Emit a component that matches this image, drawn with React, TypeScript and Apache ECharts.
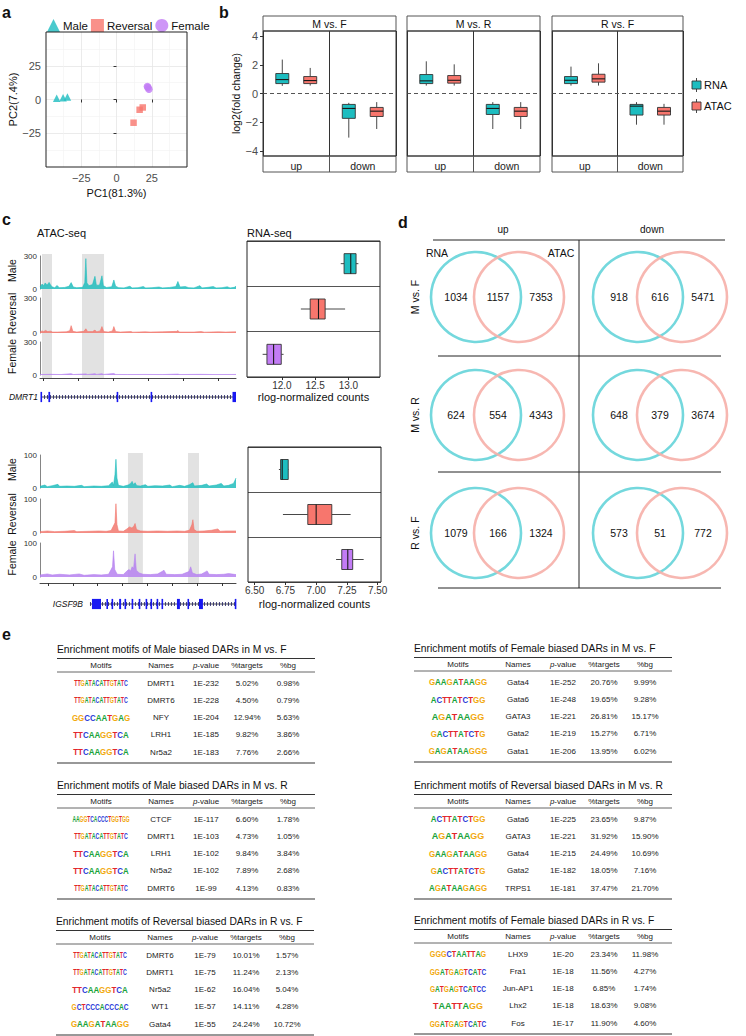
import React, { useEffect, useRef } from "react";
import * as echarts from "echarts";

const FONT = "'Liberation Sans', Arial, Helvetica, sans-serif";
const TEAL = "#1DBDC0";
const RED = "#F7766D";
const PURPLE = "#C27CF5";
const TR_TEAL = "#22BDBD";
const TR_RED = "#F2786F";
const TR_PURPLE = "#B681F0";
const VENN_TEAL = "#74D8DD";
const VENN_RED = "#F6AFA9";

// ===== a: PCA =====
const pcaGroups = ["Male", "Reversal", "Female"];
const pcaMale = [[-42.4, 1.0], [-37.9, 1.3], [-34.8, 1.8]];
const pcaReversal = [[12.1, -17.2], [16.4, -7.6], [18.6, -5.9]];
const pcaFemale = [[21.9, 9.6], [23.0, 7.6], [22.3, 8.8]];
const pcaTicks = [-25, 0, 25];

// ===== b: log2 fold change boxes [min, Q1, median, Q3, max] (up, down) =====
const facetNames = ["M vs. F", "M vs. R", "R vs. F"];
const directions = ["up", "down"];
const assays = ["RNA", "ATAC"];
const rnaMF = [[0.53, 0.69, 0.97, 1.39, 2.36], [-3.07, -1.73, -1.04, -0.76, -0.65]];
const atacMF = [[0.55, 0.69, 0.9, 1.18, 1.78], [-2.47, -1.6, -1.23, -0.97, -0.6]];
const rnaMR = [[0.55, 0.69, 0.88, 1.32, 2.24], [-2.47, -1.46, -1.04, -0.76, -0.6]];
const atacMR = [[0.55, 0.72, 0.92, 1.25, 2.03], [-2.47, -1.6, -1.23, -0.97, -0.6]];
const rnaRF = [[0.55, 0.69, 0.92, 1.18, 1.87], [-2.17, -1.5, -0.88, -0.76, -0.6]];
const atacRF = [[0.55, 0.79, 1.02, 1.34, 2.1], [-2.17, -1.5, -1.23, -0.97, -0.72]];
const log2Ticks = [-4, -2, 0, 2, 4];

// ===== c: ATAC tracks [position kb, signal] =====
const trackGroups = ["Male", "Reversal", "Female"];
const dmrt1Male = [[0, 18], [0.6, 45], [1.0, 30], [1.5, 55], [2.0, 35], [2.6, 60], [3.0, 38], [3.4, 20], [4.2, 12], [4.9, 32], [5.5, 12], [7.0, 14], [8.3, 25], [8.9, 58], [9.5, 18], [10.5, 12], [12.2, 15], [12.8, 60], [13.1, 276], [13.4, 55], [14.0, 30], [15.0, 40], [15.7, 115], [16.1, 35], [17.0, 35], [17.7, 120], [18.1, 30], [19.0, 14], [20.5, 20], [21.1, 82], [21.6, 25], [22.5, 12], [24.0, 10], [25.7, 25], [26.3, 10], [28.0, 12], [29.5, 22], [30.2, 10], [32.0, 12], [34.0, 18], [35.0, 10], [37.0, 14], [38.8, 22], [39.4, 68], [40.0, 18], [41.5, 22], [42.5, 12], [44.0, 10], [45.7, 30], [46.3, 10], [48.0, 15], [49.5, 22], [50.3, 10], [52.0, 12], [53.5, 20], [54.3, 10], [55.5, 15], [56, 25]];
const dmrt1Reversal = [[0, 8], [0.6, 18], [1.0, 12], [1.6, 22], [2.2, 12], [3.0, 16], [3.6, 8], [5, 8], [7.5, 10], [8.5, 20], [8.9, 63], [9.4, 14], [10.5, 8], [12.5, 14], [13.1, 36], [13.6, 12], [15, 12], [15.7, 25], [16.2, 10], [17.2, 18], [17.7, 55], [18.2, 12], [19.5, 8], [20.7, 18], [21.1, 55], [21.6, 12], [23, 8], [26, 12], [26.5, 7], [30, 10], [31.5, 8], [35, 10], [39.1, 14], [39.4, 22], [39.8, 8], [44, 8], [46, 12], [47, 7], [51, 10], [53, 8], [56, 10]];
const dmrt1Female = [[0, 4], [3, 6], [6, 4], [8.9, 12], [9.5, 4], [13.1, 10], [13.6, 4], [15.7, 12], [16.2, 5], [17.7, 12], [18.2, 5], [21.1, 14], [21.6, 5], [25, 4], [30, 5], [35, 4], [39.4, 8], [40, 4], [46, 6], [50, 4], [56, 5]];
const dmrt1Highlights = [[0.57, 3.43], [12.0, 18.3]];
const dmrt1AxisTicks = [0.9, 10.9, 20.9, 30.9, 40.9, 50.9];
const dmrt1Span = [0.3, 55.6];
const dmrt1Exons = [[0.14, 0.57], [2.4, 2.9], [21.9, 22.3], [31.6, 32.0], [55.0, 56.0]];

const igsf9bMale = [[0, 5], [2, 9], [3, 4], [5, 7], [7.3, 11], [8, 5], [11, 6], [14, 5], [17, 8], [18, 4], [22, 6], [25, 5], [28, 7], [29.5, 18], [30, 8], [30.6, 40], [31, 87], [31.4, 30], [32, 8], [34, 5], [36, 9], [37, 14], [37.6, 20], [38.2, 10], [38.8, 16], [39.5, 7], [41, 6], [43, 10], [44, 5], [47, 7], [50, 6], [53, 9], [54, 4], [57, 8], [59, 5], [61, 10], [62.4, 16], [63, 6], [66, 8], [68, 12], [69, 6], [72, 9], [74, 14], [75, 6], [77, 8], [79, 14], [80, 30]];
const igsf9bReversal = [[0, 4], [3, 6], [6, 4], [10, 5], [14, 7], [15, 4], [20, 5], [24, 6], [27, 5], [29, 7], [30.6, 30], [31, 86], [31.4, 25], [32, 6], [34, 5], [35.5, 12], [36.5, 18], [37.5, 15], [38.3, 20], [38.8, 28], [39.4, 10], [41, 6], [44, 5], [48, 6], [52, 5], [56, 6], [59, 5], [61, 8], [62, 25], [62.4, 39], [62.9, 10], [64, 5], [67, 6], [70, 8], [72.6, 12], [73.5, 5], [76, 6], [80, 6]];
const igsf9bFemale = [[0, 6], [3, 9], [5, 6], [8, 8], [12, 6], [16, 9], [18, 5], [22, 7], [25, 6], [28, 8], [29.6, 30], [30, 77], [30.5, 22], [31.5, 8], [34, 7], [35.5, 18], [36.3, 22], [37, 18], [37.6, 30], [38.2, 25], [38.8, 68], [39.3, 20], [40.5, 12], [42, 8], [45, 7], [48, 9], [49.8, 16], [50.6, 20], [51.5, 8], [55, 7], [58, 8], [60.8, 16], [61.5, 30], [62.2, 12], [64, 7], [66, 9], [67.5, 15], [68.2, 18], [69, 8], [72, 7], [75, 8], [77, 10], [80, 7]];
const igsf9bHighlights = [[35.9, 42.0], [60.4, 64.9]];
const igsf9bAxisTicks = [3.3, 13.5, 23.5, 33.7, 43.9, 54.1, 64.3, 74.5];
const igsf9bSpan = [20.4, 80];
const igsf9bExons = [[21.2, 24.9], [27.1, 27.6], [29.2, 29.7], [32.3, 33.1], [34.5, 35.0], [37.4, 37.9], [40.3, 40.9], [43.1, 43.6], [45.1, 45.6], [47.6, 48.1], [49.6, 50.1], [55.9, 57.1], [60.2, 60.7], [64.9, 66.5], [79.5, 80]];

// ===== c: RNA-seq rlog boxes [min, Q1, median, Q3, max] =====
const dmrt1Rlog = [[12.885, 12.935, 13.035, 13.115, 13.15], [12.285, 12.425, 12.55, 12.65, 12.95], [11.71, 11.775, 11.875, 11.99, 12.025]];
const dmrt1RlogTicks = [12, 12.5, 13];
const igsf9bRlog = [[6.697, 6.711, 6.724, 6.773, 6.776], [6.73, 6.932, 7.0, 7.127, 7.28], [7.162, 7.208, 7.257, 7.297, 7.386]];
const igsf9bRlogTicks = [6.5, 6.75, 7, 7.25, 7.5];

// ===== d: Venn counts [RNA only, shared, ATAC only] =====
const vennRows = ["M vs. F", "M vs. R", "R vs. F"];
const vennCols = ["up", "down"];
const vennUp = [[1034, 1157, 7353], [624, 554, 4343], [1079, 166, 1324]];
const vennDown = [[918, 616, 5471], [648, 379, 3674], [573, 51, 772]];

// ===== e: motif tables =====
const tableCols = ["Motifs", "Names", "p-value", "%targets", "%bg"];
const t1Title = "Enrichment motifs of Male biased DARs in M vs. F";
const t1Motifs = ["TTGATACATTGTATC", "TTGATACATTGTATC", "GGCCAATGAG", "TTCAAGGTCA", "TTCAAGGTCA"];
const t1Rows = [["DMRT1", "1E-232", "5.02%", "0.98%"], ["DMRT6", "1E-228", "4.50%", "0.79%"], ["NFY", "1E-204", "12.94%", "5.63%"], ["LRH1", "1E-185", "9.82%", "3.86%"], ["Nr5a2", "1E-183", "7.76%", "2.66%"]];
const t2Title = "Enrichment motifs of Female biased DARs in M vs. F";
const t2Motifs = ["GAAGATAAGG", "ACTTATCTGG", "AGATAAGG", "GACTTATCTG", "GAGATAAGGG"];
const t2Rows = [["Gata4", "1E-252", "20.76%", "9.99%"], ["Gata6", "1E-248", "19.65%", "9.28%"], ["GATA3", "1E-221", "26.81%", "15.17%"], ["Gata2", "1E-219", "15.27%", "6.71%"], ["Gata1", "1E-206", "13.95%", "6.02%"]];
const t3Title = "Enrichment motifs of Male biased DARs in M vs. R";
const t3Motifs = ["AAGGTCACCCTGGTGG", "TTGATACATTGTATC", "TTCAAGGTCA", "TTCAAGGTCA", "TTGATACATTGTATC"];
const t3Rows = [["CTCF", "1E-117", "6.60%", "1.78%"], ["DMRT1", "1E-103", "4.73%", "1.05%"], ["LRH1", "1E-102", "9.84%", "3.84%"], ["Nr5a2", "1E-102", "7.89%", "2.68%"], ["DMRT6", "1E-99", "4.13%", "0.83%"]];
const t4Title = "Enrichment motifs of Reversal biased DARs in M vs. R";
const t4Motifs = ["ACTTATCTGG", "AGATAAGG", "GAAGATAAGG", "GACTTATCTG", "AGATAAGAGG"];
const t4Rows = [["Gata6", "1E-225", "23.65%", "9.87%"], ["GATA3", "1E-221", "31.92%", "15.90%"], ["Gata4", "1E-215", "24.49%", "10.69%"], ["Gata2", "1E-182", "18.05%", "7.16%"], ["TRPS1", "1E-181", "37.47%", "21.70%"]];
const t5Title = "Enrichment motifs of Reversal biased DARs in R vs. F";
const t5Motifs = ["TTGATACATTGTATC", "TTGATACATTGTATC", "TTCAAGGTCA", "GCTCCCACCCAC", "GAAGATAAGG"];
const t5Rows = [["DMRT6", "1E-79", "10.01%", "1.57%"], ["DMRT1", "1E-75", "11.24%", "2.13%"], ["Nr5a2", "1E-62", "16.04%", "5.04%"], ["WT1", "1E-57", "14.11%", "4.28%"], ["Gata4", "1E-55", "24.24%", "10.72%"]];
const t6Title = "Enrichment motifs of Female biased DARs in R vs. F";
const t6Motifs = ["GGGCTAATTAG", "GGATGAGTCATC", "GATGAGTCATCC", "TAATTAGG", "GGATGAGTCATC"];
const t6Rows = [["LHX9", "1E-20", "23.34%", "11.98%"], ["Fra1", "1E-18", "11.56%", "4.27%"], ["Jun-AP1", "1E-18", "6.85%", "1.74%"], ["Lhx2", "1E-18", "18.63%", "9.08%"], ["Fos", "1E-17", "11.90%", "4.60%"]];

const LETTER_COLORS: any = { A: "#19A33A", C: "#2B3BD8", G: "#F2A90F", T: "#E2262B" };

const minusFmt = (v: number) => (v < 0 ? "\u2212" + Math.abs(v) : String(v));

function mkText(x: number, y: number, t: string, o: any = {}) {
  const align = o.align || "left";
  const style: any = {
    text: t,
    fill: o.color || "#111",
    fontSize: o.size || 10,
    fontFamily: FONT,
    fontWeight: o.weight || "normal",
    fontStyle: o.italic ? "italic" : "normal",
    align,
    textAlign: align,
    verticalAlign: "middle",
    textVerticalAlign: "middle",
  };
  if (o.rich) style.rich = o.rich;
  return { type: "text", x, y, z: 101, rotation: o.rotation || 0, scaleY: o.scaleY || 1, style };
}

function buildOption() {
  const grid: any[] = [];
  const xAxis: any[] = [];
  const yAxis: any[] = [];
  const series: any[] = [];
  const gfx: any[] = [];

  const addGrid = (r: any, xa: any, ya: any) => {
    const i = grid.length;
    grid.push({ left: r.l, top: r.t, width: r.w, height: r.h, containLabel: false, outerBoundsMode: "none" });
    xAxis.push(Object.assign({ gridIndex: i }, xa));
    yAxis.push(Object.assign({ gridIndex: i }, ya));
    return i;
  };
  const frame = (r: any, color = "#222", lw = 1) =>
    gfx.push({ type: "rect", z: 100, shape: { x: r.l, y: r.t, width: r.w, height: r.h }, style: { fill: "none", stroke: color, lineWidth: lw } });
  const line = (x1: number, y1: number, x2: number, y2: number, color = "#222", lw = 1) =>
    gfx.push({ type: "line", z: 100, shape: { x1, y1, x2, y2 }, style: { stroke: color, lineWidth: lw } });
  const text = (x: number, y: number, t: string, o: any = {}) => gfx.push(mkText(x, y, t, o));
  const axisFont = { fontFamily: FONT };

  // ---------------- panel labels ----------------
  text(2, 12, "a", { size: 16, weight: "bold" });
  text(219, 12, "b", { size: 16, weight: "bold" });
  text(2, 219, "c", { size: 16, weight: "bold" });
  text(398, 222, "d", { size: 16, weight: "bold" });
  text(2, 634, "e", { size: 16, weight: "bold" });

  // ---------------- a: PCA ----------------
  const rA = { l: 46, t: 32, w: 141, h: 135 };
  const gA = addGrid(
    rA,
    {
      type: "value", min: -50, max: 50, interval: 25,
      axisLine: { show: false },
      axisTick: { show: true, length: 3, customValues: pcaTicks, lineStyle: { color: "#333" } },
      axisLabel: { customValues: pcaTicks, formatter: minusFmt, fontSize: 11, color: "#4d4d4d", margin: 5, ...axisFont },
      splitLine: { show: true, lineStyle: { color: "#e6e6e6", width: 0.8 } },
      minorTick: { show: false, splitNumber: 2 },
      minorSplitLine: { show: true, lineStyle: { color: "#f2f2f2", width: 0.6 } },
      name: "PC1(81.3%)", nameLocation: "middle", nameGap: 20,
      nameTextStyle: { fontSize: 11, color: "#111", ...axisFont },
    },
    {
      type: "value", min: -50, max: 50, interval: 25,
      axisLine: { show: false },
      axisTick: { show: true, length: 3, customValues: pcaTicks, lineStyle: { color: "#333" } },
      axisLabel: { customValues: pcaTicks, formatter: minusFmt, fontSize: 11, color: "#4d4d4d", margin: 5, ...axisFont },
      splitLine: { show: true, lineStyle: { color: "#e6e6e6", width: 0.8 } },
      minorTick: { show: false, splitNumber: 2 },
      minorSplitLine: { show: true, lineStyle: { color: "#f2f2f2", width: 0.6 } },
      name: "PC2(7.4%)", nameLocation: "middle", nameGap: 27, nameRotate: 90,
      nameTextStyle: { fontSize: 11, color: "#111", ...axisFont },
    }
  );
  frame(rA, "#222", 1);
  const pcaData = [pcaMale, pcaReversal, pcaFemale];
  const pcaSymbols = ["triangle", "rect", "circle"];
  const pcaColors = [TEAL, RED, PURPLE];
  pcaGroups.forEach((name, k) => {
    series.push({
      type: "scatter", name, xAxisIndex: gA, yAxisIndex: gA, data: pcaData[k],
      symbol: pcaSymbols[k], symbolSize: k === 1 ? 6.5 : 7.5, itemStyle: { color: pcaColors[k] }, z: 5,
    });
  });

  // ---------------- b: facets ----------------
  const facetLeft = [263, 407, 552];
  const facetW = [133, 133, 131];
  const facetData = [[rnaMF, atacMF], [rnaMR, atacMR], [rnaRF, atacRF]];
  const assayColors = [TEAL, RED];
  const dodge = [-0.21, 0.21];
  const vBox = (off: number, color: string, bw: number) => (params: any, api: any) => {
    const cat = api.value(0);
    const band = api.size([1, 0])[0] || 66;
    const cx = api.coord([cat, 0])[0] + off * band;
    const Y = (d: number) => api.coord([cat, api.value(d)])[1];
    const lo = Y(1), q1 = Y(2), md = Y(3), q3 = Y(4), hi = Y(5);
    const st = { stroke: "#333", lineWidth: 0.9 };
    return {
      type: "group",
      children: [
        { type: "line", shape: { x1: cx, y1: hi, x2: cx, y2: q3 }, style: st },
        { type: "line", shape: { x1: cx, y1: q1, x2: cx, y2: lo }, style: st },
        { type: "rect", shape: { x: cx - bw / 2, y: q3, width: bw, height: q1 - q3 }, style: { fill: color, stroke: "#333", lineWidth: 0.9 } },
        { type: "line", shape: { x1: cx - bw / 2, y1: md, x2: cx + bw / 2, y2: md }, style: { stroke: "#1a1a1a", lineWidth: 1.1 } },
      ],
    };
  };
  facetNames.forEach((fname, i) => {
    const r = { l: facetLeft[i], t: 31, w: facetW[i], h: 125 };
    const gi = addGrid(
      r,
      {
        type: "category", data: directions, boundaryGap: true,
        axisLine: { show: false }, axisTick: { show: false },
        axisLabel: { fontSize: 10.5, color: "#222", margin: 4, ...axisFont },
        splitLine: { show: true, lineStyle: { color: "#333", width: 1 } },
      },
      {
        type: "value", min: -4.35, max: 4.35,
        axisLine: { show: false },
        axisTick: { show: i === 0, length: 3, customValues: log2Ticks, lineStyle: { color: "#333" } },
        axisLabel: { show: i === 0, customValues: log2Ticks, formatter: minusFmt, fontSize: 11, color: "#4d4d4d", margin: 5, ...axisFont },
        splitLine: { show: false },
        name: i === 0 ? "log2(fold change)" : "", nameLocation: "middle", nameGap: 19, nameRotate: 90,
        nameTextStyle: { fontSize: 10.5, color: "#111", ...axisFont },
      }
    );
    series.push({
      type: "line", xAxisIndex: gi, yAxisIndex: gi, data: [[0, 0]], symbol: "none", lineStyle: { width: 0 }, silent: true, z: 2,
      markLine: { symbol: "none", silent: true, label: { show: false }, lineStyle: { type: [4, 3], color: "#555", width: 1 }, data: [{ yAxis: 0 }] },
    });
    assays.forEach((a, k) => {
      series.push({
        type: "custom", name: a, xAxisIndex: gi, yAxisIndex: gi, z: 5,
        data: facetData[i][k].map((v, c) => [c, ...v]),
        encode: { x: 0, y: [1, 2, 3, 4, 5] },
        itemStyle: { color: assayColors[k] },
        renderItem: vBox(dodge[k], assayColors[k], 13),
      });
    });
    frame(r, "#333", 1);
    gfx.push({ type: "rect", z: 99, shape: { x: r.l, y: 16, width: r.w, height: 15 }, style: { fill: "#fff", stroke: "#555", lineWidth: 1 } });
    text(r.l + r.w / 2, 23.5, fname, { size: 10.5, align: "center" });
    gfx.push({ type: "rect", z: 99, shape: { x: r.l, y: 156, width: r.w, height: 16 }, style: { fill: "none", stroke: "#555", lineWidth: 1 } });
    line(r.l + r.w / 2, 156, r.l + r.w / 2, 172, "#555", 1);
  });
  assays.forEach((a, k) => {
    const cy = 85 + k * 21;
    const cx = 696.5;
    line(cx, cy - 7, cx, cy + 7, "#333", 0.9);
    gfx.push({ type: "rect", z: 101, shape: { x: cx - 4.5, y: cy - 4, width: 9, height: 8 }, style: { fill: assayColors[k], stroke: "#333", lineWidth: 0.9 } });
    line(cx - 4.5, cy, cx + 4.5, cy, "#1a1a1a", 1);
    text(704, cy, a, { size: 11 });
  });

  // ---------------- c: tracks ----------------
  const trackColors = [TR_TEAL, TR_RED, TR_PURPLE];
  const addTrack = (r: any, xmax: number, ymax: number, data: number[][], color: string, label: string) => {
    const gi = addGrid(
      r,
      { type: "value", min: 0, max: xmax, show: false },
      {
        type: "value", min: 0, max: ymax, interval: ymax,
        axisLine: { show: true, lineStyle: { color: "#666", width: 0.8 } },
        axisTick: { show: false },
        axisLabel: { fontSize: 8, color: "#333", margin: 3, ...axisFont },
        splitLine: { show: false },
      }
    );
    series.push({
      type: "line", xAxisIndex: gi, yAxisIndex: gi, data, symbol: "none", silent: true, z: 4,
      lineStyle: { color, width: 0.6 }, areaStyle: { color, opacity: 0.85 },
    });
    text(12, r.t + r.h / 2 - 2, label, { size: 10.5, align: "center", rotation: Math.PI / 2 });
  };
  const addBackground = (r: any, xmax: number, ticks: number[], regions: number[][]) => {
    const gi = addGrid(
      r,
      {
        type: "value", min: 0, max: xmax,
        axisLine: { show: true, lineStyle: { color: "#333", width: 0.9 } },
        axisTick: { show: true, length: 3, customValues: ticks, lineStyle: { color: "#333" } },
        axisLabel: { show: false }, splitLine: { show: false },
      },
      { type: "value", min: 0, max: 1, show: false }
    );
    series.push({
      type: "line", xAxisIndex: gi, yAxisIndex: gi, data: [[0, 0]], symbol: "none", lineStyle: { width: 0 }, silent: true, z: 1,
      markArea: { silent: true, itemStyle: { color: "#e2e2e2" }, data: regions.map(([a, b]) => [{ xAxis: a }, { xAxis: b }]) },
    });
  };
  const exonRender = (params: any, api: any) => {
    const a = api.coord([api.value(0), 0.5]);
    const b = api.coord([api.value(1), 0.5]);
    const h = api.size([0, 0.85])[1];
    const w = Math.max(b[0] - a[0], 1.6);
    return { type: "rect", shape: { x: a[0], y: a[1] - h / 2, width: w, height: h }, style: { fill: "#1818F2" } };
  };
  const addGene = (r: any, xmax: number, span: number[], exons: number[][]) => {
    const gi = addGrid(r, { type: "value", min: 0, max: xmax, show: false }, { type: "value", min: 0, max: 1, show: false });
    const spanData = span.map((x) => [x, 0.5]);
    series.push({ type: "line", xAxisIndex: gi, yAxisIndex: gi, data: spanData, symbol: "none", silent: true, z: 4, lineStyle: { color: "#222", width: 0.8 } });
    series.push({ type: "line", xAxisIndex: gi, yAxisIndex: gi, data: spanData, symbol: "none", silent: true, z: 4, lineStyle: { color: "#1c1c60", width: 4, type: [0.8, 2.2] } });
    series.push({ type: "custom", xAxisIndex: gi, yAxisIndex: gi, data: exons, encode: { x: [0, 1] }, renderItem: exonRender, z: 5, silent: true });
  };
  const boxColors = [TEAL, RED, PURPLE];
  const hBox = (bh: number) => (params: any, api: any) => {
    const cat = api.value(0);
    const cy = api.coord([api.value(3), cat])[1];
    const X = (d: number) => api.coord([api.value(d), cat])[0];
    const lo = X(1), q1 = X(2), md = X(3), q3 = X(4), hi = X(5);
    const st = { stroke: "#333", lineWidth: 0.9 };
    return {
      type: "group",
      children: [
        { type: "line", shape: { x1: lo, y1: cy, x2: q1, y2: cy }, style: st },
        { type: "line", shape: { x1: q3, y1: cy, x2: hi, y2: cy }, style: st },
        { type: "rect", shape: { x: q1, y: cy - bh / 2, width: q3 - q1, height: bh }, style: { fill: boxColors[cat], stroke: "#333", lineWidth: 0.9 } },
        { type: "line", shape: { x1: md, y1: cy - bh / 2, x2: md, y2: cy + bh / 2 }, style: { stroke: "#1a1a1a", lineWidth: 1.1 } },
      ],
    };
  };
  const addRlog = (r: any, min: number, max: number, ticks: number[], digits: number, data: number[][], nameGap: number) => {
    const gi = addGrid(
      r,
      {
        type: "value", min, max,
        axisLine: { show: false },
        axisTick: { show: true, length: 3, customValues: ticks, lineStyle: { color: "#333" } },
        axisLabel: { customValues: ticks, formatter: (v: number) => v.toFixed(digits), fontSize: 10, color: "#333", margin: 3, ...axisFont },
        splitLine: { show: false },
        name: "rlog-normalized counts", nameLocation: "middle", nameGap,
        nameTextStyle: { fontSize: 11, color: "#111", ...axisFont },
      },
      {
        type: "category", data: trackGroups, inverse: true,
        axisLine: { show: false }, axisTick: { show: false }, axisLabel: { show: false },
        splitLine: { show: true, lineStyle: { color: "#555", width: 1.2 } },
      }
    );
    series.push({
      type: "custom", xAxisIndex: gi, yAxisIndex: gi, z: 5, silent: true,
      data: data.map((v, c) => [c, ...v]),
      encode: { y: 0, x: [1, 2, 3, 4, 5] },
      renderItem: hBox(20),
    });
    frame(r, "#222", 1);
  };

  // DMRT1 block
  addBackground({ l: 40, t: 254, w: 196, h: 124 }, 56, dmrt1AxisTicks, dmrt1Highlights);
  const dmrt1Tracks = [dmrt1Male, dmrt1Reversal, dmrt1Female];
  const dmrt1Rects = [{ l: 40, t: 256, w: 196, h: 33 }, { l: 40, t: 298, w: 196, h: 35 }, { l: 40, t: 342, w: 196, h: 33 }];
  trackGroups.forEach((gname, k) => addTrack(dmrt1Rects[k], 56, 300, dmrt1Tracks[k], trackColors[k], gname));
  addGene({ l: 40, t: 391, w: 196, h: 12 }, 56, dmrt1Span, dmrt1Exons);
  text(38, 397, "DMRT1", { size: 8.5, italic: true, align: "right" });
  text(37, 233, "ATAC-seq", { size: 11 });
  text(247, 233, "RNA-seq", { size: 11 });
  addRlog({ l: 247, t: 241, w: 133, h: 136 }, 11.475, 13.475, dmrt1RlogTicks, 1, dmrt1Rlog, 14);

  // IGSF9B block
  addBackground({ l: 40, t: 453, w: 196, h: 130 }, 80, igsf9bAxisTicks, igsf9bHighlights);
  const igsf9bTracks = [igsf9bMale, igsf9bReversal, igsf9bFemale];
  const igsf9bRects = [{ l: 40, t: 455, w: 196, h: 33 }, { l: 40, t: 499, w: 196, h: 34 }, { l: 40, t: 543, w: 196, h: 34 }];
  trackGroups.forEach((gname, k) => addTrack(igsf9bRects[k], 80, 100, igsf9bTracks[k], trackColors[k], gname));
  addGene({ l: 40, t: 598, w: 196, h: 12 }, 80, igsf9bSpan, igsf9bExons);
  text(83, 604, "IGSF9B", { size: 8.5, italic: true, align: "right" });
  addRlog({ l: 248, t: 447, w: 133, h: 135 }, 6.446, 7.527, igsf9bRlogTicks, 2, igsf9bRlog, 16);

  // ---------------- d: Venn ----------------
  const vennRowY = [297, 415, 533];
  const vennCircleX = [[476, 519], [638, 682]];
  const vennNumX = [[456, 498, 541], [619, 660, 703]];
  const vennData = [vennUp, vennDown];
  line(433, 240, 725, 240, "#222", 1);
  line(579, 240, 579, 588, "#222", 1);
  line(438, 356, 721, 356, "#222", 1);
  line(438, 472, 721, 472, "#222", 1);
  line(438, 588, 721, 588, "#222", 1);
  text(503, 229, vennCols[0], { size: 10, align: "center" });
  text(652, 229, vennCols[1], { size: 10, align: "center" });
  text(437, 253, "RNA", { size: 10.5, align: "center" });
  text(561, 253, "ATAC", { size: 10.5, align: "center" });
  vennRows.forEach((rn, i) => {
    const cy = vennRowY[i];
    text(415, cy, rn, { size: 10.5, align: "center", rotation: Math.PI / 2 });
    [0, 1].forEach((c) => {
      gfx.push({ type: "circle", z: 100, shape: { cx: vennCircleX[c][0], cy, r: 45 }, style: { fill: "none", stroke: VENN_TEAL, lineWidth: 2.6 } });
      gfx.push({ type: "circle", z: 100, shape: { cx: vennCircleX[c][1], cy, r: 45 }, style: { fill: "none", stroke: VENN_RED, lineWidth: 2.6, opacity: 0.9 } });
      vennData[c][i].forEach((n, j) => text(vennNumX[c][j], cy, String(n), { size: 10.5, align: "center" }));
    });
  });

  // ---------------- e: tables ----------------
  const colOff = [44, 104, 149, 190, 231];
  const motifEl = (x: number, y: number, seq: string) => {
    const fs = Math.min(9, 54 / (seq.length * 0.68));
    const rich: any = {};
    Object.keys(LETTER_COLORS).forEach((ch) => {
      rich[ch] = { fill: LETTER_COLORS[ch], fontSize: fs, fontWeight: "bold", fontFamily: FONT };
    });
    const t = seq.split("").map((c) => `{${c}|${c}}`).join("");
    const scaleY = Math.min(1.9, Math.max(1, 7 / (fs * 0.72)));
    return mkText(x, y, t, { size: fs, align: "center", rich, scaleY });
  };
  const table = (x0: number, y0: number, title: string, motifs: string[], rows: string[][]) => {
    text(x0, y0, title, { size: 10.3 });
    line(x0, y0 + 9.5, x0 + 258, y0 + 9.5, "#333", 1.2);
    tableCols.forEach((c, j) => {
      if (c === "p-value") {
        gfx.push(mkText(x0 + colOff[j], y0 + 16.5, "{i|p}-value", {
          size: 8, align: "center", color: "#222",
          rich: { i: { fontStyle: "italic", fontSize: 8, fontFamily: FONT, fill: "#222" } },
        }));
      } else {
        text(x0 + colOff[j], y0 + 16.5, c, { size: 8, align: "center", color: "#222" });
      }
    });
    line(x0, y0 + 23, x0 + 258, y0 + 23, "#555", 0.9);
    rows.forEach((row, i) => {
      const y = y0 + 34 + i * 17.25;
      gfx.push(motifEl(x0 + colOff[0], y, motifs[i]));
      row.forEach((cell, j) => text(x0 + colOff[j + 1], y, cell, { size: 8, align: "center", color: "#222" }));
    });
    line(x0, y0 + 114, x0 + 258, y0 + 114, "#333", 1.2);
  };
  table(57, 649, t1Title, t1Motifs, t1Rows);
  table(414, 648, t2Title, t2Motifs, t2Rows);
  table(57, 785, t3Title, t3Motifs, t3Rows);
  table(414, 785, t4Title, t4Motifs, t4Rows);
  table(56, 921, t5Title, t5Motifs, t5Rows);
  table(414, 920, t6Title, t6Motifs, t6Rows);

  return {
    animation: false,
    backgroundColor: "#fff",
    textStyle: { fontFamily: FONT },
    legend: {
      data: pcaGroups.map((n, k) => ({ name: n, icon: pcaSymbols[k] })),
      left: 42, top: 14, itemWidth: 13, itemHeight: 13, itemGap: 3, selectedMode: false,
      textStyle: { fontSize: 11.5, color: "#111", fontFamily: FONT, padding: [0, 0, 0, -2] },
    },
    grid, xAxis, yAxis, series,
    graphic: { elements: gfx },
  };
}

export default function App() {
  const ref = useRef<HTMLDivElement>(null);
  useEffect(() => {
    if (!ref.current) return;
    const chart = echarts.init(ref.current, null, { renderer: "svg" });
    chart.setOption(buildOption() as any);
    return () => chart.dispose();
  }, []);
  return (
    <div
      ref={ref}
      style={{ position: "absolute", left: 0, top: 0, width: 746, height: 1036, background: "#fff" }}
    />
  );
}
